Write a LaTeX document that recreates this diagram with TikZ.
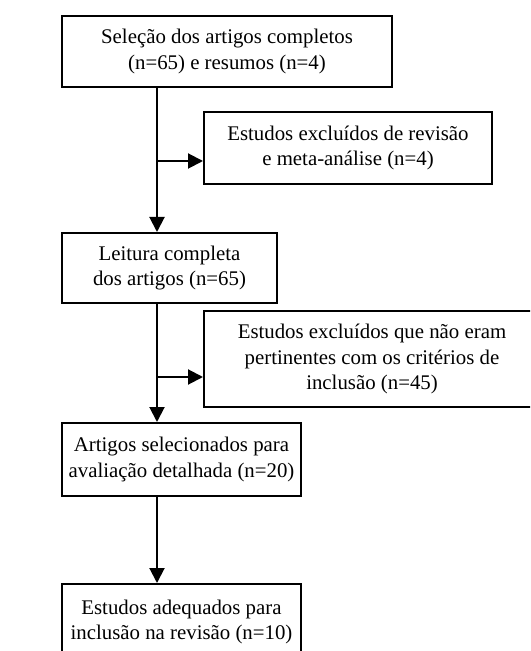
\documentclass[tikz,border=0pt]{standalone}
\usepackage{fontspec}
\setmainfont{Liberation Serif}
\usetikzlibrary{arrows.meta}
\tikzset{
  caixa/.style={draw, line width=1.2pt, align=center, inner sep=0pt,
    font=\fontsize{12.5pt}{15.2pt}\selectfont},
  seta/.style={line width=1.2pt, -{Triangle[length=9pt,width=9pt]}},
}
\begin{document}
\begin{tikzpicture}[x=0.6pt,y=-0.6pt]
    \useasboundingbox (0,0) rectangle (530,651);
    \clip (0,0) rectangle (530,651);

    \node[caixa, minimum width=198pt, minimum height=42.6pt] (selecao) at (227,51.5)
      {Seleção dos artigos completos\\(n=65) e resumos (n=4)};
    \node[caixa, minimum width=172.8pt, minimum height=43.2pt] (excl1) at (348,148)
      {Estudos excluídos de revisão\\e meta-análise (n=4)};
    \node[caixa, minimum width=129pt, minimum height=42pt] (leitura) at (169.5,268)
      {Leitura completa\\dos artigos (n=65)};
    \node[caixa, minimum width=201.6pt, minimum height=57.6pt] (excl2) at (372,359)
      {Estudos excluídos que não eram\\pertinentes com os critérios de\\inclusão (n=45)};
    \node[caixa, minimum width=143.4pt, minimum height=43.8pt] (artigos) at (181.5,459.5)
      {Artigos selecionados para\\avaliação detalhada (n=20)};
    \node[caixa, minimum width=143.4pt, minimum height=45.6pt] (adequados) at (181.5,622)
      {Estudos adequados para\\inclusão na revisão (n=10)};

    \coordinate (eixo) at (157,0);
    \coordinate (ramo1) at (157,161);
    \coordinate (ramo2) at (157,377);

    \draw[seta] (selecao.south -| eixo) -- (leitura.north -| eixo);
    \draw[seta] (ramo1) -- (ramo1 -| excl1.west);
    \draw[seta] (leitura.south -| eixo) -- (artigos.north -| eixo);
    \draw[seta] (ramo2) -- (ramo2 -| excl2.west);
    \draw[seta] (artigos.south -| eixo) -- (adequados.north -| eixo);
\end{tikzpicture}
\end{document}
